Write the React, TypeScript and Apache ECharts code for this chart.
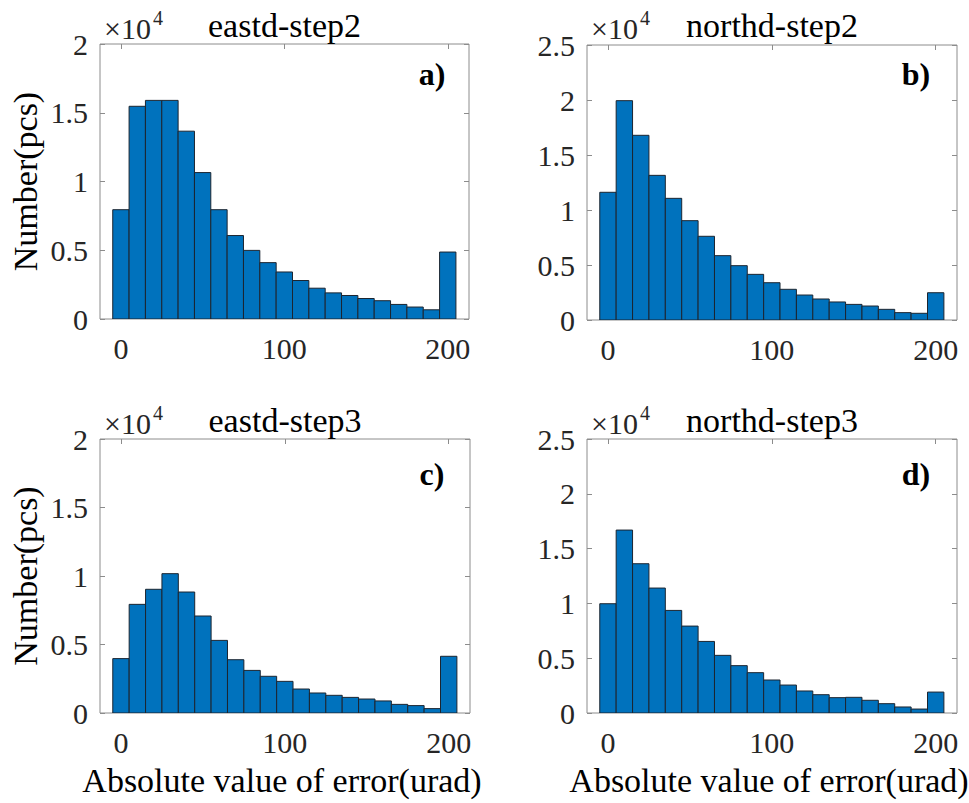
import React, { useEffect, useRef } from "react";
import * as echarts from "echarts";

// Bin centres (urad) shared by all four histograms
const binCenters = [0, 10, 20, 30, 40, 50, 60, 70, 80, 90, 100, 110, 120, 130, 140, 150, 160, 170, 180, 190, 200];

// Counts (pcs) per bin
const eastdStep2 = [7950, 15470, 15900, 15900, 13660, 10650, 7950, 6070, 4990, 4100, 3420, 2800, 2240, 1900, 1710, 1490, 1330, 1060, 870, 670, 4870];
const northdStep2 = [11610, 19940, 16790, 13150, 11060, 9030, 7610, 5850, 4940, 4150, 3390, 2790, 2270, 1910, 1640, 1420, 1270, 970, 670, 610, 2480];
const eastdStep3 = [3970, 7930, 9030, 10170, 8830, 7080, 5300, 3890, 3110, 2680, 2310, 1750, 1460, 1290, 1140, 1020, 880, 630, 540, 320, 4140];
const northdStep3 = [9970, 16690, 13620, 11400, 9360, 7930, 6530, 5260, 4320, 3680, 3010, 2550, 2010, 1670, 1400, 1430, 1160, 850, 550, 360, 1910];

const titles = ["eastd-step2", "northd-step2", "eastd-step3", "northd-step3"];
const letters = ["a)", "b)", "c)", "d)"];
const xTicks = [0, 100, 200];
const yName = "Number(pcs)";
const xName = "Absolute value of error(urad)";
const BIN_WIDTH = 10;

const FONT = "Liberation Serif";
const BOX = "#8c8c8c";
const TXT = "#262626";

const layout = [
  { data: eastdStep2, ymax: 20000, left: 100, top: 44, width: 369, height: 275 },
  { data: northdStep2, ymax: 25000, left: 587, top: 45, width: 370, height: 275 },
  { data: eastdStep3, ymax: 20000, left: 100, top: 439, width: 370, height: 274 },
  { data: northdStep3, ymax: 25000, left: 587, top: 439, width: 370, height: 274 },
];

export default function App() {
  const ref = useRef<HTMLDivElement>(null);
  useEffect(() => {
    if (!ref.current) return;
    const chart = echarts.init(ref.current, null, { renderer: "svg" });
    const grid: any[] = [];
    const xAxis: any[] = [];
    const yAxis: any[] = [];
    const series: any[] = [];
    const graphic: any[] = [];

    const txt = (x: number, y: number, text: string, size: number, opts: any = {}) => ({
      type: "text", x, y, rotation: opts.rotation || 0,
      style: {
        text, fontFamily: FONT, fontSize: size, fontWeight: opts.bold ? "bold" : "normal",
        fill: opts.fill || "#000", textAlign: opts.align || "center", textVerticalAlign: "middle",
      },
    });

    layout.forEach((p, i) => {
      grid.push({ left: p.left, top: p.top, width: p.width, height: p.height, show: true, borderColor: BOX, borderWidth: 1, backgroundColor: "#fff" });
      const xBase = {
        gridIndex: i, type: "value", min: -12.8, max: 213,
        splitLine: { show: false }, axisLine: { show: false, onZero: false },
        axisTick: { show: true, inside: true, length: 5, customValues: xTicks, lineStyle: { color: BOX } },
      };
      xAxis.push({ ...xBase, position: "bottom", axisLabel: { customValues: xTicks, margin: 14, fontFamily: FONT, fontSize: 30, color: TXT } });
      xAxis.push({ ...xBase, position: "top", axisLabel: { show: false } });
      const yBase = {
        gridIndex: i, type: "value", min: 0, max: p.ymax, interval: 5000,
        splitLine: { show: false }, axisLine: { show: false, onZero: false },
        axisTick: { show: true, inside: true, length: 5, lineStyle: { color: BOX } },
      };
      yAxis.push({ ...yBase, position: "left", axisLabel: { margin: 12, fontFamily: FONT, fontSize: 30, color: TXT, formatter: (v: number) => String(v / 10000) } });
      yAxis.push({ ...yBase, position: "right", axisLabel: { show: false } });

      series.push({
        type: "custom",
        xAxisIndex: 2 * i,
        yAxisIndex: 2 * i,
        clip: true,
        data: binCenters.map((c, k) => [c, p.data[k]]),
        renderItem: (params: any, api: any) => {
          const x = api.value(0);
          const y = api.value(1);
          const a = api.coord([x - BIN_WIDTH / 2, 0]);
          const b = api.coord([x + BIN_WIDTH / 2, y]);
          return {
            type: "rect",
            shape: { x: a[0], y: b[1], width: b[0] - a[0], height: a[1] - b[1] },
            style: { fill: "#0072BD", stroke: "#1c2530", lineWidth: 1 },
          };
        },
      });

      const cx = p.left + p.width / 2;
      const topOff = i < 2 ? 0 : 395;
      graphic.push(txt(cx, 25 + topOff, titles[i], 34));
      graphic.push(txt(p.left + 4, 28 + topOff, "×10", 30, { align: "left", fill: TXT }));
      graphic.push(txt(p.left + 53, 18 + topOff, "4", 20, { align: "left", fill: TXT }));
      graphic.push(txt(i % 2 === 0 ? 432 : 916, i < 2 ? 74 : 474, letters[i], 32, { bold: true }));
      if (i % 2 === 0) {
        graphic.push(txt(25, p.top + p.height / 2, yName, 34, { rotation: Math.PI / 2 }));
      }
      if (i >= 2) {
        graphic.push(txt(cx - 3, 780, xName, 34));
      }
    });

    chart.setOption({ animation: false, backgroundColor: "#fff", grid, xAxis, yAxis, series, graphic });
    return () => chart.dispose();
  }, []);
  return <div ref={ref} style={{ position: "absolute", left: 0, top: 0, width: 969, height: 803 }} />;
}
